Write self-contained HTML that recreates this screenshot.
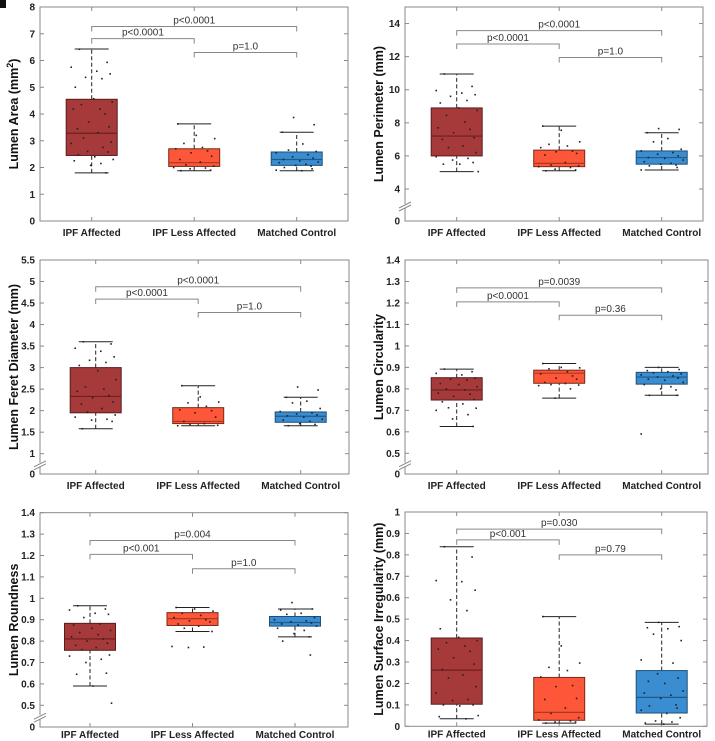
<!DOCTYPE html>
<html><head><meta charset="utf-8">
<style>
html,body{margin:0;padding:0;background:#fff;}
svg{display:block;font-family:"Liberation Sans",Arial,sans-serif;}
</style></head>
<body>
<svg id="fig" width="715" height="741" viewBox="0 0 715 741" xmlns="http://www.w3.org/2000/svg">
<rect x="0" y="0" width="6" height="8" fill="#111"/>
</svg>
<script>
const categories = ["IPF Affected","IPF Less Affected","Matched Control"];
const statsA = [[1.8,2.45,3.28,4.55,6.43],[1.88,2.04,2.18,2.7,3.63],[1.88,2.08,2.3,2.58,3.32]];
const statsB = [[5.05,6.0,7.2,8.9,10.95],[5.1,5.35,5.55,6.35,7.8],[5.15,5.5,5.9,6.3,7.4]];
const statsC = [[1.58,1.95,2.33,3.0,3.6],[1.65,1.7,1.75,2.07,2.58],[1.65,1.73,1.87,1.97,2.31]];
const statsD = [[0.625,0.748,0.795,0.852,0.892],[0.757,0.826,0.873,0.887,0.918],[0.77,0.822,0.855,0.877,0.9]];
const statsE = [[0.59,0.757,0.81,0.883,0.965],[0.845,0.873,0.905,0.933,0.957],[0.82,0.87,0.887,0.915,0.95]];
const statsF = [[0.035,0.103,0.262,0.412,0.838],[0.015,0.028,0.065,0.228,0.512],[0.01,0.062,0.135,0.26,0.485]];
const ptsA = [[6.42,5.93,5.75,5.6,5.5,5.37,5.32,5.0,4.57,4.45,4.35,4.18,4.18,4.0,3.7,3.52,3.45,3.3,3.1,2.95,2.9,2.75,2.6,2.58,2.47,2.4,2.3,2.25,2.15,2.08,1.8],[3.63,3.2,3.08,2.9,2.75,2.7,2.62,2.55,2.42,2.3,2.2,2.1,2.05,2.0,1.98,1.95,1.9,1.88],[3.87,3.6,3.32,2.88,2.65,2.6,2.55,2.48,2.4,2.35,2.3,2.25,2.2,2.18,2.12,2.08,2.05,2.0,1.95,1.9,1.88]];
const ptsB = [[10.95,10.2,9.95,9.8,9.7,9.6,9.35,9.2,8.9,8.75,8.45,8.05,7.7,7.6,7.4,7.1,7.0,6.6,6.5,6.2,5.95,5.85,5.75,5.6,5.5,5.5,5.05],[7.8,7.55,6.85,6.7,6.6,6.5,6.3,6.25,6.15,6.05,5.6,5.45,5.4,5.35,5.3,5.2,5.15,5.1],[7.65,7.6,7.4,7.05,6.85,6.4,6.3,6.2,6.1,6.0,5.9,5.85,5.75,5.65,5.55,5.5,5.45,5.4,5.3,5.15]];
const ptsC = [[3.6,3.55,3.45,3.38,3.25,3.17,3.12,3.05,2.93,2.72,2.55,2.5,2.45,2.35,2.3,2.2,2.15,2.05,1.97,1.9,1.85,1.8,1.78,1.75,1.58],[2.58,2.32,2.2,2.18,2.1,2.02,2.0,1.95,1.85,1.75,1.7,1.68,1.66,1.65],[2.55,2.48,2.31,2.22,2.18,2.05,1.98,1.95,1.92,1.9,1.88,1.85,1.8,1.78,1.75,1.7,1.68,1.65]];
const ptsD = [[0.892,0.88,0.872,0.865,0.85,0.845,0.84,0.825,0.82,0.81,0.8,0.795,0.78,0.775,0.765,0.75,0.74,0.73,0.712,0.71,0.7,0.68,0.66,0.625],[0.918,0.9,0.898,0.893,0.88,0.87,0.86,0.85,0.845,0.83,0.825,0.82,0.818,0.815,0.8,0.757],[0.9,0.89,0.885,0.88,0.875,0.87,0.865,0.86,0.855,0.85,0.845,0.84,0.83,0.82,0.81,0.8,0.795,0.77,0.77,0.59]];
const ptsE = [[0.965,0.95,0.945,0.93,0.925,0.91,0.88,0.875,0.86,0.85,0.84,0.83,0.82,0.81,0.8,0.79,0.78,0.77,0.76,0.735,0.73,0.715,0.7,0.65,0.645,0.59,0.51],[0.957,0.95,0.94,0.93,0.92,0.91,0.9,0.895,0.89,0.88,0.87,0.86,0.845,0.775,0.772,0.77],[0.98,0.95,0.945,0.93,0.925,0.91,0.9,0.895,0.89,0.885,0.88,0.875,0.87,0.86,0.85,0.835,0.82,0.8,0.735]];
const ptsF = [[0.838,0.79,0.68,0.675,0.635,0.59,0.54,0.455,0.415,0.4,0.39,0.375,0.36,0.35,0.32,0.29,0.265,0.24,0.225,0.185,0.155,0.125,0.12,0.1,0.1,0.095,0.05,0.045,0.035],[0.512,0.375,0.295,0.275,0.26,0.23,0.19,0.185,0.13,0.125,0.085,0.06,0.04,0.03,0.025,0.02,0.02,0.015],[0.485,0.465,0.46,0.455,0.43,0.4,0.31,0.295,0.245,0.225,0.21,0.2,0.165,0.155,0.145,0.13,0.1,0.095,0.085,0.075,0.06,0.04,0.025,0.02,0.015,0.01]];
const jitter = [-0.12,0.15,-0.2,0.05,0.18,-0.06,0.1,-0.16,0.02,0.2,-0.1,0.08,-0.18,0.13,-0.03,0.17,-0.14,0.06,-0.08,0.19,-0.2,0.11,-0.04,0.16,-0.13,0.03,0.21,-0.17,0.09,-0.01,0.14];
const brA = [[1,3,7.27,"p<0.0001"],[1,2,6.82,"p<0.0001"],[2,3,6.3,"p=1.0"]];
const brB = [[1,3,13.57,"p<0.0001"],[1,2,12.76,"p<0.0001"],[2,3,11.95,"p=1.0"]];
const brC = [[1,3,4.88,"p<0.0001"],[1,2,4.59,"p<0.0001"],[2,3,4.28,"p=1.0"]];
const brD = [[1,3,1.27,"p=0.0039"],[1,2,1.205,"p<0.0001"],[2,3,1.143,"p=0.36"]];
const brE = [[1,3,1.27,"p=0.004"],[1,2,1.205,"p<0.001"],[2,3,1.138,"p=1.0"]];
const brF = [[1,3,0.92,"p=0.030"],[1,2,0.87,"p<0.001"],[2,3,0.8,"p=0.79"]];
const ticksA = ["0","1","2","3","4","5","6","7","8"];
const ticksB = ["0","4","6","8","10","12","14"];
const ticksC = ["0","1","1.5","2","2.5","3","3.5","4","4.5","5","5.5"];
const ticksD = ["0","0.5","0.6","0.7","0.8","0.9","1","1.1","1.2","1.3","1.4"];
const ticksE = ["0","0.5","0.6","0.7","0.8","0.9","1","1.1","1.2","1.3","1.4"];
const ticksF = ["0","0.1","0.2","0.3","0.4","0.5","0.6","0.7","0.8","0.9","1"];

const NS="http://www.w3.org/2000/svg";
const svg=document.getElementById('fig');
function mk(tag,attrs,parent){const e=document.createElementNS(NS,tag);for(const k in attrs)e.setAttribute(k,attrs[k]);(parent||svg).appendChild(e);return e;}
const fills=["#a63a3b","#fe5638","#3a8dd0"];
const edges=["#5a1c1c","#7a2a1a","#1d4f78"];
const meds=["#6e1f20","#a83a22","#1f5a8a"];

const panels=[
 {name:"lumen-area",stats:statsA,pts:ptsA,br:brA,ticks:ticksA,title:"Lumen Area (mm²)",sup:true,L:40,R:348,T:7,B:221,c1:91.7,sp:102.5,y0:0,yTop:8,brk:null,lab:15},
 {name:"lumen-perimeter",stats:statsB,pts:ptsB,br:brB,ticks:ticksB,title:"Lumen Perimeter (mm)",L:405,R:703,T:7,B:221,c1:456.7,sp:102.5,y0:4,y0px:189,yTop:15,brk:true,lab:15},
 {name:"lumen-feret-diameter",stats:statsC,pts:ptsC,br:brC,ticks:ticksC,title:"Lumen Feret Diameter (mm)",L:40,R:349,T:260,B:474,c1:95.7,sp:102.5,y0:1,y0px:453.7,yTop:5.5,brk:true,lab:15},
 {name:"lumen-circularity",stats:statsD,pts:ptsD,br:brD,ticks:ticksD,title:"Lumen Circularity",L:405,R:708,T:260,B:474,c1:456.7,sp:102.5,y0:0.5,y0px:453.3,yTop:1.4,brk:true,lab:15},
 {name:"lumen-roundness",stats:statsE,pts:ptsE,br:brE,ticks:ticksE,title:"Lumen Roundness",L:40,R:348,T:512.7,B:727,c1:90,sp:102.5,y0:0.5,y0px:705.3,yTop:1.4,brk:true,lab:11},
 {name:"lumen-surface-irregularity",stats:statsF,pts:ptsF,br:brF,ticks:ticksF,title:"Lumen Surface Irregularity (mm)",L:405,R:707,T:512,B:726.3,c1:456.7,sp:102.5,y0:0,yTop:1,brk:null,lab:11}
];

panels.forEach(p=>{
  const g=mk('g',{});
  
  
  const base = p.brk ? p.y0px : p.B;
  const per = (base - p.T)/(p.yTop - p.y0);
  const y = v => (p.brk && v < p.y0) ? p.B - (v/p.y0)*(p.B-p.y0px) : base - (v - p.y0)*per;
  const x = c => p.c1 + (c-1)*p.sp;
  const fr=mk('rect',{x:p.L,y:p.T,width:p.R-p.L,height:p.B-p.T,fill:'none',stroke:'#8a8a8a','stroke-width':1},g);
  
  
  p.ticks.forEach(t=>{
    const v=parseFloat(t); const yy=y(v);
    mk('line',{x1:p.L,x2:p.L+4,y1:yy,y2:yy,stroke:'#8a8a8a'},g);
    mk('line',{x1:p.R,x2:p.R-4,y1:yy,y2:yy,stroke:'#8a8a8a'},g);
    const tx=mk('text',{x:p.L-5,y:yy+3.5,'text-anchor':'end','font-size':'10','font-weight':'bold',fill:'#222'},g);
    tx.textContent=t;
    
    
  });
  categories.forEach((c,i)=>{
    const xx=x(i+1);
    mk('line',{x1:xx,x2:xx,y1:p.B,y2:p.B-4,stroke:'#8a8a8a'},g);
    mk('line',{x1:xx,x2:xx,y1:p.T,y2:p.T+4,stroke:'#8a8a8a'},g);
    const tx=mk('text',{x:xx,y:p.B+p.lab,'text-anchor':'middle','font-size':'10','font-weight':'bold',fill:'#222'},g);
    tx.textContent=c;
    
    
  });
  const cy=(p.T+p.B)/2, tX=p.L-22;
  const yt=mk('text',{x:tX,y:cy,transform:`rotate(-90 ${tX} ${cy})`,'text-anchor':'middle','font-size':'12.5','font-weight':'bold',fill:'#111'},g);
  if(p.sup){yt.innerHTML='Lumen Area (mm<tspan dy="-5" font-size="9">2</tspan><tspan dy="5">)</tspan>';}
  else yt.textContent=p.title;
  
  
  if(p.brk){
    const by=(p.B+p.y0px)/2+2;
    mk('rect',{x:p.L-1.5,y:by-3,width:3,height:4,fill:'#fff'},g);
    const b1=mk('line',{x1:p.L-6,y1:by+1,x2:p.L+6,y2:by-5,stroke:'#888'},g);
    
    
    mk('line',{x1:p.L-6,y1:by+4,x2:p.L+6,y2:by-2,stroke:'#888'},g);
  }
  const hw=25.5;
  p.stats.forEach((s,i)=>{
    const xx=x(i+1);
    const bg=mk('g',{},g);
    
    
    mk('line',{x1:xx,x2:xx,y1:y(s[0]),y2:y(s[1]),stroke:'#222','stroke-dasharray':'4,2.5'},bg);
    mk('line',{x1:xx,x2:xx,y1:y(s[3]),y2:y(s[4]),stroke:'#222','stroke-dasharray':'4,2.5'},bg);
    mk('line',{x1:xx-17,x2:xx+17,y1:y(s[0]),y2:y(s[0]),stroke:'#222'},bg);
    mk('line',{x1:xx-17,x2:xx+17,y1:y(s[4]),y2:y(s[4]),stroke:'#222'},bg);
    mk('rect',{x:xx-hw,y:y(s[3]),width:2*hw,height:y(s[1])-y(s[3]),fill:fills[i],stroke:edges[i],'stroke-width':1},bg);
    mk('line',{x1:xx-hw,x2:xx+hw,y1:y(s[2]),y2:y(s[2]),stroke:meds[i],'stroke-width':1.2},bg);
  });
  p.pts.forEach((arr,i)=>{
    arr.forEach((v,k)=>{
      const c=mk('rect',{x:x(i+1+jitter[(k+i*7)%jitter.length])-0.8,y:y(v)-0.8,width:1.6,height:1.6,fill:'#222'},g);
      
      
    });
  });
  p.br.forEach(b=>{
    const x1=x(b[0]),x2=x(b[1]),yy=y(b[2]);
    const bg=mk('g',{},g);
    
    
    mk('path',{d:`M${x1},${yy+5} V${yy} H${x2} V${yy+5}`,fill:'none',stroke:'#888','stroke-width':1},bg);
    const t=mk('text',{x:(x1+x2)/2,y:yy-3,'text-anchor':'middle','font-size':'10',fill:'#333'},bg);
    t.textContent=b[3];
    
    
  });
});
</script>
</body></html>
